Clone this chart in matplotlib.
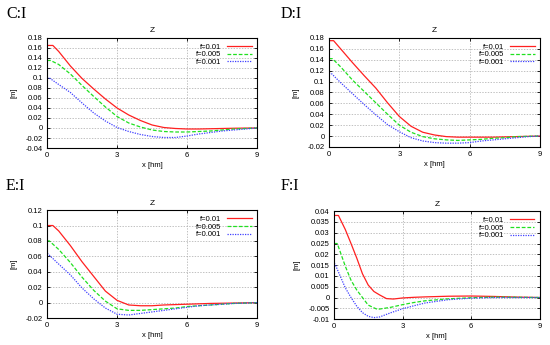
import matplotlib
matplotlib.use("Agg")
import matplotlib.pyplot as plt
from matplotlib.ticker import FuncFormatter, MultipleLocator

plt.rcParams["font.family"] = ["Liberation Sans", "DejaVu Sans"]

LABELS = ["f=0.01", "f=0.005", "f=0.001"]
COLORS = ["#ff2020", "#20e020", "#4040ff"]
STYLES = ["-", (0, (3, 1.5)), (0, (1, 1))]

# --- panel C:I ---
c_x_red = [0, 0.25, 0.5, 1, 1.5, 2, 2.5, 3, 3.5, 4, 4.5, 5, 5.5, 6, 6.5, 7, 7.5, 8, 8.5, 9]
c_red = [0.165, 0.165, 0.153, 0.124, 0.099, 0.078, 0.058, 0.040, 0.026, 0.015, 0.006,
         0.001, -0.001, -0.002, -0.002, -0.0015, -0.001, -0.0005, -0.0002, 0]
c_x_grn = [0, 0.15, 0.5, 1, 1.5, 2, 2.5, 3, 3.5, 4, 4.5, 5, 5.5, 6, 6.5, 7, 7.5, 8, 8.5, 9]
c_grn = [0.135, 0.135, 0.127, 0.108, 0.085, 0.063, 0.042, 0.023, 0.010, 0.002, -0.004,
         -0.007, -0.008, -0.008, -0.007, -0.006, -0.004, -0.002, -0.001, 0]
c_x_blu = [0, 0.1, 0.5, 1, 1.5, 2, 2.5, 3, 3.5, 4, 4.5, 5, 5.5, 6, 6.5, 7, 7.5, 8, 8.5, 9]
c_blu = [0.100, 0.100, 0.087, 0.071, 0.050, 0.030, 0.014, 0.001, -0.007, -0.013, -0.017,
         -0.019, -0.019, -0.016, -0.012, -0.009, -0.006, -0.004, -0.002, 0]

# --- panel D:I ---
d_x_red = [0, 0.2, 0.5, 1, 1.5, 2, 2.5, 3, 3.5, 4, 4.5, 5, 5.5, 6, 7, 8, 9]
d_red = [0.175, 0.175, 0.160, 0.135, 0.111, 0.088, 0.061, 0.036, 0.018, 0.007, 0.002,
         -0.001, -0.002, -0.002, -0.002, -0.001, 0]
d_x_grn = [0, 0.15, 0.5, 1, 1.5, 2, 2.5, 3, 3.5, 4, 4.5, 5, 5.5, 6, 6.5, 7, 7.5, 8, 9]
d_grn = [0.142, 0.142, 0.127, 0.103, 0.082, 0.061, 0.040, 0.020, 0.007, -0.001, -0.005,
         -0.007, -0.008, -0.007, -0.006, -0.004, -0.003, -0.001, 0]
d_x_blu = [0, 0.1, 0.5, 1, 1.5, 2, 2.5, 3, 3.5, 4, 4.5, 5, 5.5, 6, 6.5, 7, 7.5, 8, 8.5, 9]
d_blu = [0.115, 0.115, 0.098, 0.078, 0.058, 0.039, 0.021, 0.008, -0.003, -0.009, -0.012,
         -0.013, -0.013, -0.012, -0.009, -0.007, -0.005, -0.003, -0.001, 0]

# --- panel E:I ---
e_x_red = [0, 0.25, 0.5, 1, 1.5, 2, 2.5, 3, 3.5, 4, 4.5, 5, 6, 7, 8, 9]
e_red = [0.100, 0.100, 0.093, 0.074, 0.053, 0.034, 0.015, 0.003, -0.003, -0.004, -0.004,
         -0.003, -0.002, -0.001, -0.0005, 0]
e_x_grn = [0, 0.1, 0.5, 1, 1.5, 2, 2.5, 3, 3.5, 4, 4.5, 5, 5.5, 6, 6.5, 7, 8, 9]
e_grn = [0.080, 0.080, 0.069, 0.052, 0.033, 0.016, 0.002, -0.008, -0.010, -0.010, -0.009,
         -0.008, -0.007, -0.005, -0.004, -0.003, -0.001, 0]
e_x_blu = [0, 0.05, 0.5, 1, 1.5, 2, 2.5, 3, 3.5, 4, 4.5, 5, 5.5, 6, 6.5, 7, 8, 9]
e_blu = [0.063, 0.063, 0.050, 0.036, 0.019, 0.005, -0.007, -0.015, -0.016, -0.014, -0.012,
         -0.010, -0.008, -0.006, -0.004, -0.003, -0.001, 0]

# --- panel F:I ---
f_x_red = [0, 0.2, 0.5, 0.75, 1, 1.25, 1.5, 1.75, 2, 2.3, 2.6, 3, 3.5, 4, 5, 6, 7, 8, 9]
f_red = [0.038, 0.038, 0.0315, 0.025, 0.0183, 0.011, 0.0058, 0.0028, 0.0012, -0.0005,
         -0.0007, -0.0002, 0.0001, 0.0003, 0.0006, 0.0007, 0.0005, 0.0002, 0]
f_x_grn = [0, 0.15, 0.5, 0.75, 1, 1.25, 1.5, 1.9, 2.5, 3, 3.5, 4, 5, 6, 7, 8, 9]
f_grn = [0.025, 0.025, 0.0145, 0.008, 0.0035, 0.0, -0.0035, -0.0055, -0.0045, -0.0033,
         -0.0023, -0.0015, -0.0006, -0.0001, 0.0002, 0.0001, 0]
f_x_blu = [0, 0.05, 0.5, 0.75, 1, 1.25, 1.5, 1.75, 2, 2.5, 3, 3.5, 4, 5, 6, 7, 8, 9]
f_blu = [0.0155, 0.0155, 0.0045, 0.0, -0.004, -0.007, -0.0087, -0.0093, -0.009, -0.007,
         -0.0052, -0.0038, -0.0025, -0.001, -0.0003, 0.0, 0.0, 0]

panels = [
    ("C:I", [0.0855, 0.571, 0.382, 0.319], (-0.04, 0.18), 0.02,
     [(c_x_red, c_red), (c_x_grn, c_grn), (c_x_blu, c_blu)]),
    ("D:I", [0.598, 0.574, 0.384, 0.316], (-0.02, 0.18), 0.02,
     [(d_x_red, d_red), (d_x_grn, d_grn), (d_x_blu, d_blu)]),
    ("E:I", [0.0855, 0.078, 0.382, 0.313], (-0.02, 0.12), 0.02,
     [(e_x_red, e_red), (e_x_grn, e_grn), (e_x_blu, e_blu)]),
    ("F:I", [0.607, 0.075, 0.3745, 0.313], (-0.01, 0.04), 0.005,
     [(f_x_red, f_red), (f_x_grn, f_grn), (f_x_blu, f_blu)]),
]

fig = plt.figure(figsize=(5.5, 3.45), dpi=100)

for name, rect, ylim, ystep, series in panels:
    ax = fig.add_axes(rect)
    for (xs, ys), lab, col, ls in zip(series, LABELS, COLORS, STYLES):
        ax.plot(xs, ys, color=col, ls=ls, lw=0.9, label=lab)
    ax.set_xlim(0, 9)
    ax.set_ylim(*ylim)
    ax.xaxis.set_major_locator(MultipleLocator(3))
    ax.yaxis.set_major_locator(MultipleLocator(ystep))
    ax.yaxis.set_major_formatter(FuncFormatter(lambda v, p: "%g" % round(v, 4)))
    ax.grid(True, color="#a8a8a8", ls=(0, (2, 2)), lw=0.5)
    ax.tick_params(direction="in", top=True, right=True, labelsize=5.5,
                   length=2.5, width=0.6, pad=3)
    for s in ax.spines.values():
        s.set_linewidth(0.8)
    ax.set_title("Z", fontsize=6, pad=4)
    ax.set_xlabel("x [hm]", fontsize=5.5, labelpad=2)
    ax.set_ylabel("[m]", fontsize=5.5, labelpad=6)
    ax.legend(loc="upper right", frameon=False, fontsize=5.5, markerfirst=False,
              handlelength=3.2, labelspacing=0.05, borderaxespad=0.3,
              handletextpad=0.8)
    x0 = 0.011 if rect[0] < 0.3 else 0.511
    y0 = 0.96 if rect[1] > 0.3 else 0.46
    fig.text(x0, y0, name, fontsize=11.5, family=["Liberation Serif", "DejaVu Serif"],
             ha="left", va="center")

fig.savefig("out.png", dpi=100)
